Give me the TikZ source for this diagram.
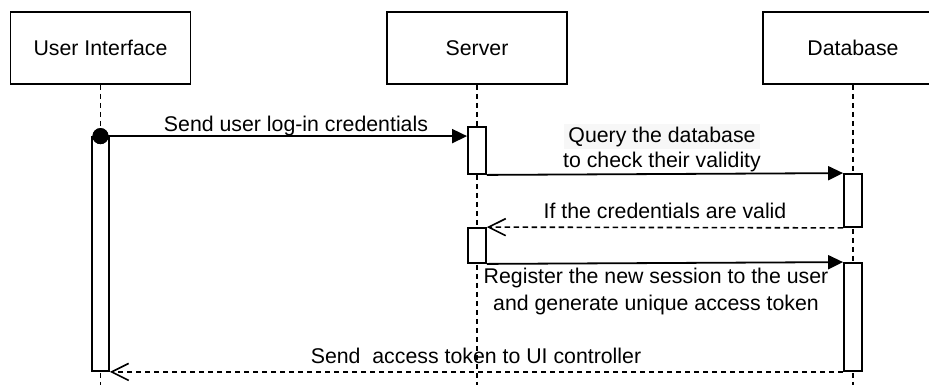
\documentclass[tikz,border=0pt]{standalone}
\usepackage{fontspec}
\setmainfont{Liberation Sans}
\usetikzlibrary{arrows.meta}
\begin{document}
\begin{tikzpicture}[x=1pt,y=-1pt,
  every node/.style={font=\fontsize{21.3}{25}\selectfont},
  actor/.style={draw,line width=1.8pt,minimum width=180pt,minimum height=72pt,inner sep=0pt,fill=white},
  actbar/.style={draw,line width=1.8pt,fill=white,minimum width=18pt,inner sep=0pt},
  life/.style={line width=1.6pt,dash pattern=on 5.5pt off 3.5pt},
  msg/.style={line width=1.8pt,-{Triangle[length=15pt,width=14pt]}},
  reply/.style={line width=1.6pt,dash pattern=on 5.5pt off 3.5pt,-{Straight Barb[length=17pt,width=17pt,line width=1.6pt]}},
  lbl/.style={anchor=base,inner sep=0pt},
  startdot/.style={circle,fill=black,minimum size=16pt,inner sep=0pt},
]
\clip (0,0) rectangle (929,384);

% participants
\node[actor] (ui) at (100.5,48) {User Interface};
\node[actor] (srv) at (477,48) {Server};
\node[actor] (db) at (853,48) {Database};

% lifelines
\coordinate (uiend) at (100.5,390);
\coordinate (srvend) at (477,390);
\coordinate (dbend) at (853,390);
\draw[life] (ui.south) -- (uiend);
\draw[life] (srv.south) -- (srvend);
\draw[life] (db.south) -- (dbend);

% activation bars
\node[actbar,minimum width=17pt,minimum height=234pt] (uibar) at (100.5,254) {};
\node[actbar,minimum height=47pt] (sbar1) at (477,150.5) {};
\node[actbar,minimum height=35pt] (sbar2) at (477,245.5) {};
\node[actbar,minimum height=53pt] (dbbar1) at (853,200.5) {};
\node[actbar,minimum height=108pt] (dbbar2) at (853,317) {};

% messages
\node[startdot] (start) at (uibar.north) {};
\draw[msg] (start.center) -- (start.center -| sbar1.west);
\draw[msg] (sbar1.south east) -- (dbbar1.north west);
\draw[reply] (dbbar1.south west) -- (sbar2.north east);
\draw[msg] (sbar2.south east) -- (dbbar2.north west);
\draw[reply] (dbbar2.south west) -- (uibar.south east);
\node[startdot] at (start) {};

% message labels
\node[lbl] (l1) at (296,131) {Send user log-in credentials};
\node[lbl,fill=black!3,inner xsep=4pt,inner ysep=3pt] (l2a) at (662,142) {Query the database};
\node[lbl] (l2b) at (662,167) {to check their validity};
\node[lbl] (l3) at (665,218) {If the credentials are valid};
\node[lbl] (l4a) at (656,283) {Register the new session to the user};
\node[lbl] (l4b) at (656,310) {and generate unique access token};
\node[lbl] (l5) at (476,363) {Send\ \ access token to UI controller};
\end{tikzpicture}
\end{document}
